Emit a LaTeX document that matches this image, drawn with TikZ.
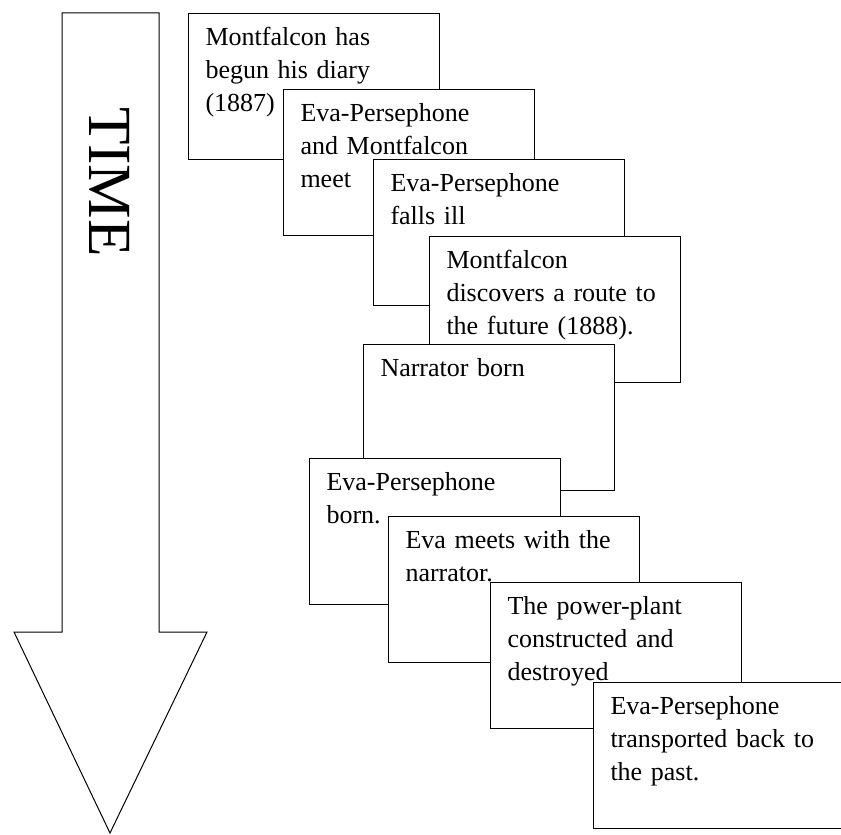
\documentclass[tikz,border=0pt]{standalone}
\usepackage{fontspec}
\setmainfont{Liberation Serif}
\usetikzlibrary{positioning}

\begin{document}
\begin{tikzpicture}[
  x=0.75pt, y=-0.75pt,
  event/.style={draw, fill=white, line width=0.75pt, anchor=north west, align=left,
    text width=162.75pt, inner xsep=12.75pt, inner ysep=11pt,
    text height=13pt, text depth=74.5pt,
    font=\fontsize{19.5}{24.6}\selectfont},
  timearrow/.style={draw, line width=0.75pt, fill=white}
]
  \useasboundingbox (0,0) rectangle (841,834);
  \clip (0,0) rectangle (841,834);

  % time arrow
  \draw[timearrow] (62,13) -- (159,13) -- (159,632) -- (207,632) -- (110,833) -- (14,632) -- (62,632) -- cycle;
  \node[rotate=-90, font=\fontsize{46}{46}\selectfont] (time) at (110,182) {TIME};

  % events, later ones lie on top
  \node[event] (diary) at (188,13) {Montfalcon has\\begun his diary\\(1887)};
  \node[event] (meet) at (283,89) {Eva-Persephone\\and Montfalcon\\meet};
  \node[event] (ill) at (373,159) {Eva-Persephone\\falls ill};
  \node[event] (route) at (429,236) {Montfalcon\\discovers a route to\\the future (1888).};
  \node[event] (narrator) at (363,344) {Narrator born};
  \node[event] (evaborn) at (309,458) {Eva-Persephone\\born.};
  \node[event] (evameets) at (388,516) {Eva meets with the\\narrator.};
  \node[event] (plant) at (490,582) {The power-plant\\constructed and\\destroyed};
  \node[event] (back) at (593,682) {Eva-Persephone\\transported back to\\the past.};
\end{tikzpicture}
\end{document}
